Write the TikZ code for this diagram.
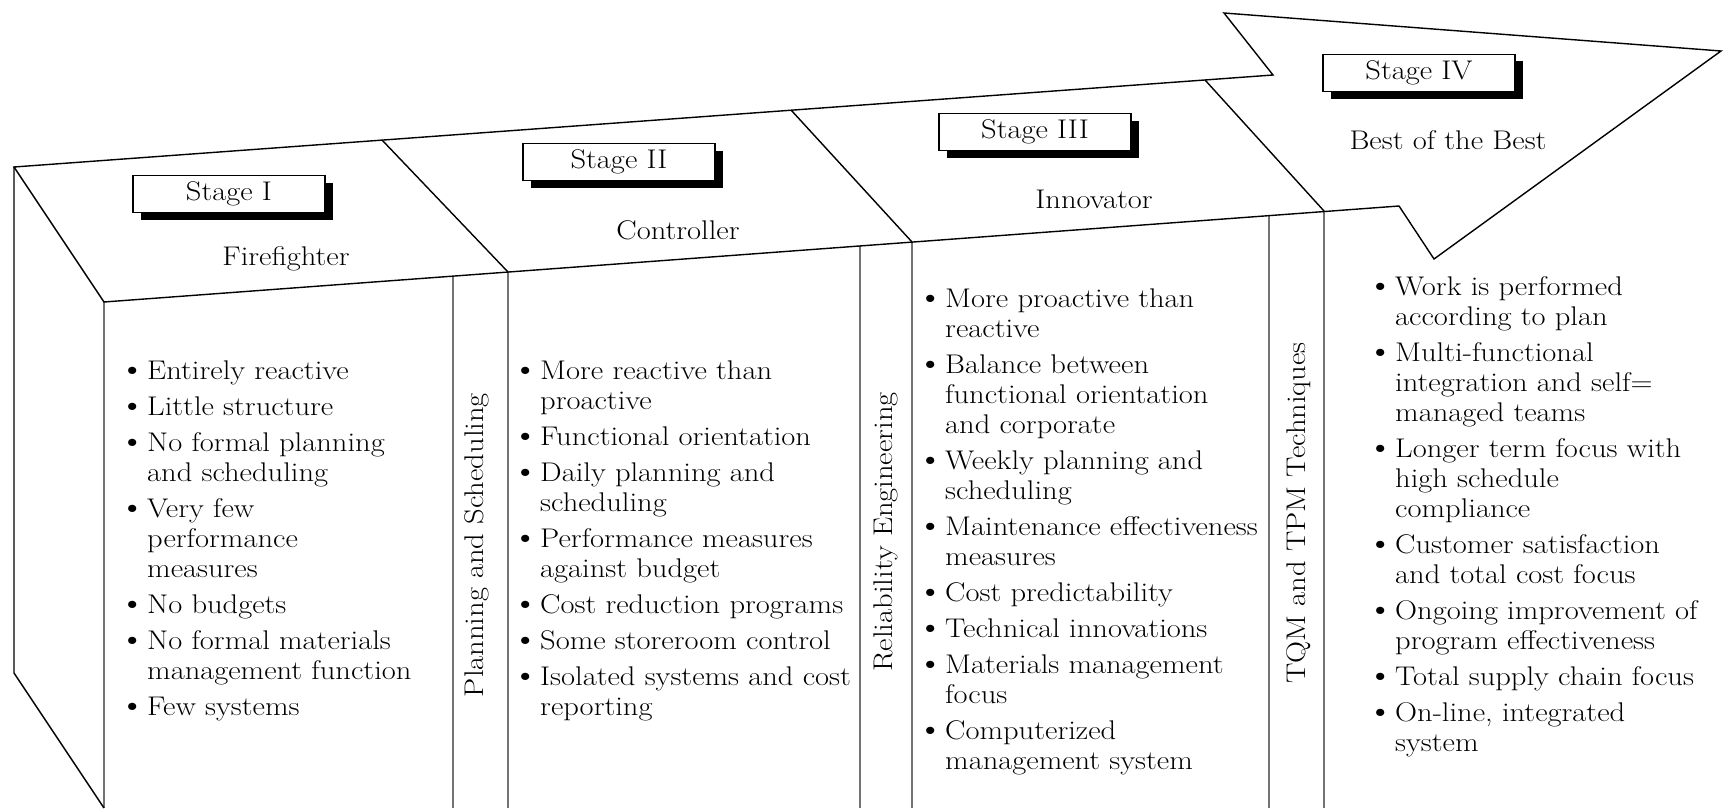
\documentclass[tikz,border=0pt]{standalone}
\usepackage{fontspec}
\setmainfont{Latin Modern Roman}[FakeStretch=1.13]
\usetikzlibrary{shadows}
\newcommand\mybul{\hbox to 19pt{\hskip4pt\makebox[0pt]{\scalebox{1.2}{\textbullet}}\hss}}
\tikzset{
  outline/.style={line width=1.4pt, line join=miter},
  vline/.style={line width=1.4pt, draw=black!55},
  txt/.style={font=\fontsize{27}{30}\selectfont, inner sep=0pt},
  stagebox/.style={txt, draw, line width=1.4pt, fill=white, minimum width=192pt, minimum height=37pt,
    drop shadow={shadow xshift=8pt, shadow yshift=-7pt, opacity=1, fill=black}},
  bullets/.style={txt, anchor=north west, align=left},
  vlabel/.style={txt, rotate=90}
}
\begin{document}
\begin{tikzpicture}[x=1pt,y=-1pt]
\useasboundingbox[fill=white] (0,0) rectangle (1723,808);
% key points
\coordinate (A) at (14,167);
\coordinate (N1) at (1273,75);
\coordinate (B1) at (1224,13);
\coordinate (T) at (1721,51);
\coordinate (P) at (1434,259);
\coordinate (N2) at (1399,206);
\coordinate (IC) at (104,302);
\coordinate (L1) at (14,673);
\coordinate (L2) at (104,808);
\coordinate (D1t) at (382,140);
\coordinate (D1b) at (508,272);
\coordinate (D2t) at (791,110);
\coordinate (D2b) at (912,242);
\coordinate (D3t) at (1205,80);
\coordinate (D3b) at (1324,211);
\coordinate (V1t) at (453,276);
\coordinate (V2t) at (860,246);
\coordinate (V3t) at (1269,215);
\coordinate (V0b) at (104,808);
\coordinate (V1b) at (453,808);
\coordinate (D1e) at (508,808);
\coordinate (V2b) at (860,808);
\coordinate (D2e) at (912,808);
\coordinate (V3b) at (1269,808);
\coordinate (D3e) at (1324,808);
% vertical column lines
\draw[vline] (IC) -- (V0b);
\draw[vline] (V1t) -- (V1b);
\draw[vline] (D1b) -- (D1e);
\draw[vline] (V2t) -- (V2b);
\draw[vline] (D2b) -- (D2e);
\draw[vline] (V3t) -- (V3b);
\draw[vline] (D3b) -- (D3e);
% outline
\draw[outline] (IC) -- (A) -- (N1) -- (B1) -- (T) -- (P) -- (N2) -- cycle;
\draw[outline] (A) -- (L1) -- (L2);
\draw[outline] (D1t) -- (D1b);
\draw[outline] (D2t) -- (D2b);
\draw[outline] (D3t) -- (D3b);
% stage boxes
\node[stagebox] (s1) at (229,194) {Stage I};
\node[stagebox] (s2) at (619,162) {Stage II};
\node[stagebox] (s3) at (1035,132) {Stage III};
\node[stagebox] (s4) at (1419,73) {Stage IV};
% titles
\node[txt] (t1) at (286,259) {Firefighter};
\node[txt] (t2) at (678,230) {Controller};
\node[txt] (t3) at (1094,199) {Innovator};
\node[txt] (t4) at (1448,140) {Best of the Best};
% vertical labels
\node[vlabel] (p1) at (477,545) {Planning and Scheduling};
\node[vlabel] (p2) at (886,532) {Reliability Engineering};
\node[vlabel] (p3) at (1299,513) {TQM and TPM Techniques};
% lists
\node[bullets] (c1) at (128,358) {\begin{tabular}{@{}l@{}l@{}}
\mybul & Entirely reactive\\[6pt]
\mybul & Little structure\\[6pt]
\mybul & No formal planning\\
 & and scheduling\\[6pt]
\mybul & Very few\\
 & performance\\
 & measures\\[6pt]
\mybul & No budgets\\[6pt]
\mybul & No formal materials\\
 & management function\\[6pt]
\mybul & Few systems
\end{tabular}};
\node[bullets] (c2) at (521,358) {\begin{tabular}{@{}l@{}l@{}}
\mybul & More reactive than\\
 & proactive\\[6pt]
\mybul & Functional orientation\\[6pt]
\mybul & Daily planning and\\
 & scheduling\\[6pt]
\mybul & Performance measures\\
 & against budget\\[6pt]
\mybul & Cost reduction programs\\[6pt]
\mybul & Some storeroom control\\[6pt]
\mybul & Isolated systems and cost\\
 & reporting
\end{tabular}};
\node[bullets] (c3) at (926,286) {\begin{tabular}{@{}l@{}l@{}}
\mybul & More proactive than\\
 & reactive\\[6pt]
\mybul & Balance between\\
 & functional orientation\\
 & and corporate\\[6pt]
\mybul & Weekly planning and\\
 & scheduling\\[6pt]
\mybul & Maintenance effectiveness\\
 & measures\\[6pt]
\mybul & Cost predictability\\[6pt]
\mybul & Technical innovations\\[6pt]
\mybul & Materials management\\
 & focus\\[6pt]
\mybul & Computerized\\
 & management system
\end{tabular}};
\node[bullets] (c4) at (1376,274) {\begin{tabular}{@{}l@{}l@{}}
\mybul & Work is performed\\
 & according to plan\\[6pt]
\mybul & Multi-functional\\
 & integration and self=\\
 & managed teams\\[6pt]
\mybul & Longer term focus with\\
 & high schedule\\
 & compliance\\[6pt]
\mybul & Customer satisfaction\\
 & and total cost focus\\[6pt]
\mybul & Ongoing improvement of\\
 & program effectiveness\\[6pt]
\mybul & Total supply chain focus\\[6pt]
\mybul & On-line, integrated\\
 & system
\end{tabular}};
\end{tikzpicture}
\end{document}
